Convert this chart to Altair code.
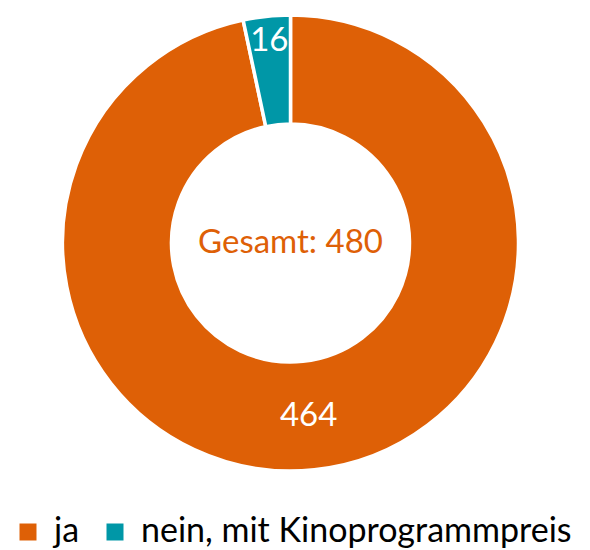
import altair as alt
import pandas as pd

categories = ["ja", "nein, mit Kinoprogrammpreis"]
values = [464, 16]
colors = ["#DE6006", "#0097A7"]
center_text = ["Gesamt: 480"]

df = pd.DataFrame({"cat": categories, "value": values, "order": [0, 1]})
W, H = 565, 454
FONT = "Lato"

color = alt.Color(
    "cat:N",
    scale=alt.Scale(domain=categories, range=colors),
    sort=categories,
    legend=alt.Legend(
        title=None,
        orient="none",
        legendX=3,
        legendY=499,
        padding=0,
        direction="horizontal",
        symbolType="square",
        symbolSize=289,
        symbolStrokeWidth=0,
        labelFontSize=34,
        labelFont=FONT,
        labelColor="#000000",
        labelLimit=0,
        columnPadding=18,
        labelOffset=9,
        symbolOffset=0,
    ),
)

arcs = alt.Chart(df).mark_arc(
    innerRadius=119, outerRadius=228, stroke="white", strokeWidth=3.5
).encode(
    theta=alt.Theta("value:Q", stack=True),
    order=alt.Order("order:Q"),
    color=color,
)

text_base = alt.Chart(df).transform_stack(
    stack="value", as_=["v0", "v1"], groupby=[], sort=[alt.SortField("order")]
).transform_calculate(mid="(datum.v0 + datum.v1) / 2")

lab_big = text_base.transform_filter(alt.datum.cat == "ja").mark_text(
    radius=174, fontSize=33, font=FONT, color="white"
).encode(theta=alt.Theta("mid:Q", stack=None), text="value:Q")

lab_small = text_base.transform_filter(alt.datum.cat != "ja").mark_text(
    radius=203, fontSize=33, font=FONT, color="white"
).encode(theta=alt.Theta("mid:Q", stack=None), text="value:Q")

center = alt.Chart(pd.DataFrame({"t": center_text})).mark_text(
    fontSize=33, font=FONT, color="#DE6006"
).encode(text="t:N", x=alt.value(W / 2), y=alt.value(H / 2))

chart = alt.layer(arcs, lab_big, lab_small, center).properties(
    width=W, height=H, padding=0
).configure_view(stroke=None)

chart.save("out.html", embed_options={"renderer": "svg", "actions": False})
